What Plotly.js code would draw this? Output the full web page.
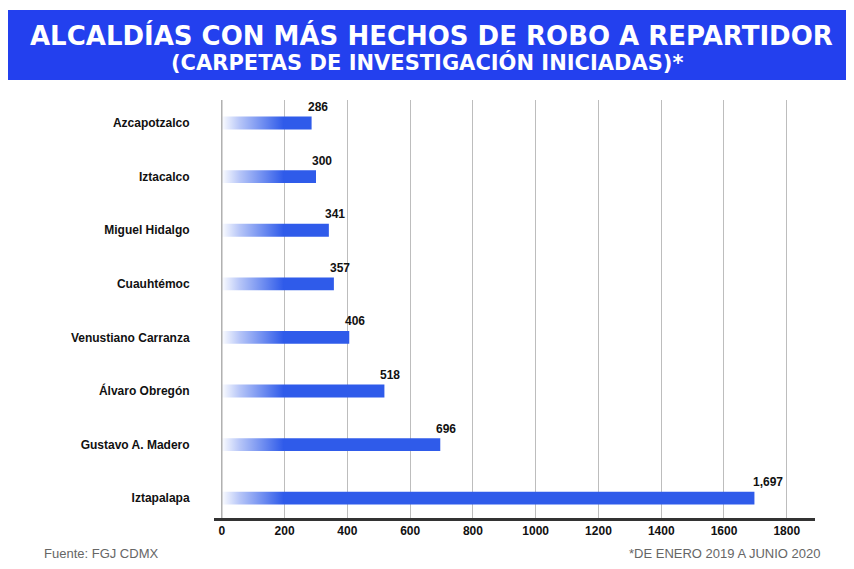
<!DOCTYPE html>
<html>
<head>
<meta charset="utf-8">
<script src="https://cdn.plot.ly/plotly-3.0.1.min.js"></script>
<style>html,body{margin:0;padding:0;background:#fff;}#chart{width:854px;height:569px;}</style>
</head>
<body>
<div id="chart"></div>
<script>
const categories = ["Azcapotzalco","Iztacalco","Miguel Hidalgo","Cuauhtémoc","Venustiano Carranza","Álvaro Obregón","Gustavo A. Madero","Iztapalapa"];
const values = [286, 300, 341, 357, 406, 518, 696, 1697];
const valueLabels = ["286","300","341","357","406","518","696","1,697"];
const tickVals = [0,200,400,600,800,1000,1200,1400,1600,1800];

const fadeSvg = '<svg xmlns="http://www.w3.org/2000/svg" width="200" height="10" preserveAspectRatio="none"><defs><linearGradient id="g" x1="0" x2="1" y1="0" y2="0"><stop offset="0" stop-color="#fff" stop-opacity="1"/><stop offset="0.3" stop-color="#fff" stop-opacity="0.65"/><stop offset="1" stop-color="#fff" stop-opacity="0"/></linearGradient></defs><rect width="200" height="10" fill="url(#g)"/></svg>';
const fadeSrc = 'data:image/svg+xml;base64,' + btoa(fadeSvg);

const L = 214, R = 815, T = 100, B = 518;
const px = x => (x - L) / (R - L);
const py = y => (B - y) / (B - T);

const trace = {
  type: 'bar', orientation: 'h',
  x: values, y: categories,
  width: 0.24,
  marker: {color: '#2F5BEA'},
  hoverinfo: 'none'
};

const annotations = categories.map((c, i) => ({
  x: values[i], y: c, xref: 'x', yref: 'y',
  text: '<b>' + valueLabels[i] + '</b>',
  showarrow: false, xanchor: 'center', yanchor: 'middle',
  xshift: i === 7 ? 14 : 6, yshift: 16,
  font: {family: 'Liberation Sans', size: 12, color: '#111'}
}));

annotations.push(
  {xref:'paper', yref:'paper', x: px(431), y: py(35), text:'<b>ALCALDÍAS CON MÁS HECHOS DE ROBO A REPARTIDOR</b>', showarrow:false, xanchor:'center', yanchor:'middle', font:{family:'DejaVu Sans', size:26, color:'#fff'}},
  {xref:'paper', yref:'paper', x: px(427), y: py(63), text:'<b>(CARPETAS DE INVESTIGACIÓN INICIADAS)*</b>', showarrow:false, xanchor:'center', yanchor:'middle', font:{family:'DejaVu Sans', size:21, color:'#fff'}},
  {xref:'paper', yref:'paper', x: px(42), y: py(553), text:'Fuente: FGJ CDMX', showarrow:false, xanchor:'left', yanchor:'middle', font:{family:'Liberation Sans Narrow, Liberation Sans', size:13, color:'#666'}},
  {xref:'paper', yref:'paper', x: px(822), y: py(553), text:'*DE ENERO 2019 A JUNIO 2020', showarrow:false, xanchor:'right', yanchor:'middle', font:{family:'Liberation Sans Narrow, Liberation Sans', size:13, color:'#666'}}
);

const layout = {
  width: 854, height: 569,
  margin: {l: L, r: 854 - R, t: T, b: 569 - B, pad: 0},
  paper_bgcolor: '#fff', plot_bgcolor: '#fff',
  showlegend: false,
  bargap: 0.7,
  xaxis: {
    range: [-25, 1890], tickvals: tickVals, ticktext: tickVals.map(String),
    showgrid: true, gridcolor: '#bdbdbd', gridwidth: 1, zeroline: false,
    showline: true, linecolor: '#333', linewidth: 3,
    ticks: '', tickfont: {family: 'Liberation Sans', size: 12, color: '#111', weight: 'bold'},
    fixedrange: true
  },
  yaxis: {
    type: 'category', range: [7.37, -0.43],
    showgrid: false, zeroline: false, showline: false,
    ticks: 'outside', ticklen: 21, tickcolor: 'rgba(0,0,0,0)',
    tickfont: {family: 'Liberation Sans', size: 12, color: '#111', weight: 'bold'},
    fixedrange: true
  },
  shapes: [
    {type:'rect', xref:'paper', yref:'paper', x0: px(8), x1: px(846), y0: py(80), y1: py(10), fillcolor:'#2340EE', line:{width:0}, layer:'below'},
    {type:'line', xref:'x', yref:'paper', x0: 0, x1: 0, y0: 0, y1: 1, line:{color:'#888', width:1}, layer:'above'}
  ],
  images: [
    {source: fadeSrc, xref:'x', yref:'paper', x: -3, y: 1, sizex: 200, sizey: 1, sizing:'stretch', xanchor:'left', yanchor:'top', layer:'above'}
  ],
  annotations: annotations
};

Plotly.newPlot('chart', [trace], layout, {displayModeBar: false, staticPlot: true});
</script>
</body>
</html>
